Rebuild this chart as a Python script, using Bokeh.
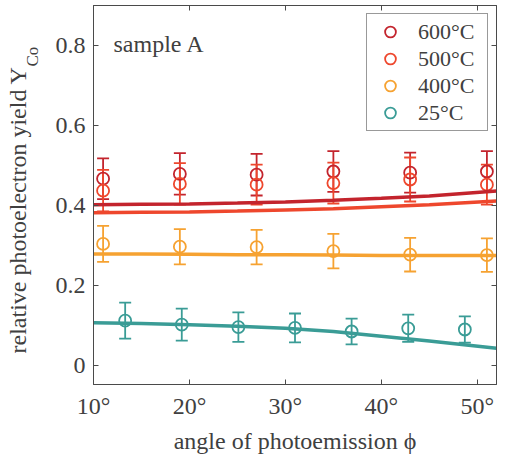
from bokeh.plotting import figure
from bokeh.models import (ColumnDataSource, Whisker, TeeHead, Label, LinearAxis,
                          FixedTicker, Legend, LegendItem, Range1d, Title)
from bokeh.embed import file_html
from bokeh.resources import INLINE

# ---------------- data ----------------
x_hi = [11, 19, 27, 35, 43, 51]
y600 = [0.467, 0.479, 0.477, 0.485, 0.482, 0.485]
e600 = [0.051, 0.052, 0.052, 0.051, 0.050, 0.051]
y500 = [0.437, 0.454, 0.452, 0.456, 0.465, 0.452]
e500 = [0.052, 0.052, 0.050, 0.051, 0.055, 0.050]
y400 = [0.304, 0.297, 0.296, 0.286, 0.277, 0.276]
e400 = [0.045, 0.044, 0.043, 0.043, 0.042, 0.042]
x_lo = [13.3, 19.2, 25.1, 31.0, 36.9, 42.8, 48.7]
y25 = [0.112, 0.102, 0.096, 0.094, 0.085, 0.093, 0.090]
e25 = [0.045, 0.040, 0.037, 0.036, 0.032, 0.034, 0.033]

x_fit = [10, 15, 20, 25, 30, 35, 40, 45, 52]
f600 = [0.402, 0.403, 0.404, 0.406, 0.409, 0.413, 0.418, 0.424, 0.436]
f500 = [0.382, 0.383, 0.384, 0.386, 0.389, 0.392, 0.397, 0.402, 0.411]
f400 = [0.279, 0.279, 0.278, 0.277, 0.277, 0.276, 0.275, 0.275, 0.275]
f25 = [0.107, 0.105, 0.102, 0.098, 0.093, 0.085, 0.073, 0.061, 0.043]

labels = ["600°C", "500°C", "400°C", "25°C"]
x_ticks = [10, 20, 30, 40, 50]
x_tick_labels = ["10°", "20°", "30°", "40°", "50°"]
y_ticks = [0, 0.2, 0.4, 0.6, 0.8]
y_tick_labels = ["0", "0.2", "0.4", "0.6", "0.8"]

colors = ["#C3242D", "#EE472D", "#F6A231", "#3A9C96"]
FONT = "Liberation Serif"
TXT = "#404040"
AX = "#4a4a4a"

p = figure(width=505, height=456, output_backend="svg", toolbar_location=None,
           x_range=Range1d(10, 52), y_range=Range1d(-0.0475, 0.9),
           min_border_left=93, min_border_right=9, min_border_top=5, min_border_bottom=72,
           background_fill_color="white", border_fill_color="white")
p.xgrid.visible = False
p.ygrid.visible = False
p.outline_line_color = AX
p.outline_line_width = 1

def style_axis(ax, ticks, tlabels, show):
    ax.ticker = FixedTicker(ticks=ticks)
    ax.major_label_overrides = {t: (l if show else "") for t, l in zip(ticks, tlabels)}
    ax.major_tick_in = 5
    ax.major_tick_out = 0
    ax.minor_tick_in = 0
    ax.minor_tick_out = 0
    ax.axis_line_color = AX
    ax.major_tick_line_color = AX
    ax.major_label_text_font = FONT
    ax.major_label_text_font_size = "24px" if show else "0px"
    ax.major_label_text_color = TXT
    ax.major_label_standoff = 8 if show else 0

style_axis(p.xaxis[0], x_ticks, x_tick_labels, True)
style_axis(p.yaxis[0], y_ticks, y_tick_labels, True)
p.xaxis[0].axis_label = "angle of photoemission ϕ"
p.xaxis[0].axis_label_text_font = FONT
p.xaxis[0].axis_label_text_font_size = "24px"
p.xaxis[0].axis_label_text_font_style = "normal"
p.xaxis[0].axis_label_text_color = TXT
p.xaxis[0].axis_label_standoff = 6

# small spacer so the subscript sits clear of the tick labels
p.yaxis[0].axis_label = " "
p.yaxis[0].axis_label_text_font_size = "1px"
p.yaxis[0].axis_label_standoff = 7

top = LinearAxis()
style_axis(top, x_ticks, x_tick_labels, False)
p.add_layout(top, "above")
right = LinearAxis()
style_axis(right, y_ticks, y_tick_labels, False)
p.add_layout(right, "right")

# y-axis title: "relative photoelectron yield Y" with subscript "Co"
sub = Title(text="Co", align="left", offset=318, standoff=0, vertical_align="bottom",
            text_font=FONT, text_font_size="17px", text_font_style="normal", text_color=TXT)
p.add_layout(sub, "left")
ytitle = Title(text="relative photoelectron yield Y", align="left", offset=31, standoff=-21,
               vertical_align="bottom", text_font=FONT, text_font_size="24px",
               text_font_style="normal", text_color=TXT)
p.add_layout(ytitle, "left")

series = [(x_hi, y600, e600, f600), (x_hi, y500, e500, f500),
          (x_hi, y400, e400, f400), (x_lo, y25, e25, f25)]

legend_items = []
for (xs, ys, es, fs), c, lab in zip(series, colors, labels):
    src = ColumnDataSource(dict(x=xs, y=ys,
                                upper=[a + b for a, b in zip(ys, es)],
                                lower=[a - b for a, b in zip(ys, es)]))
    w = Whisker(base="x", upper="upper", lower="lower", source=src, dimension="height",
                line_color=c, line_width=1.8,
                upper_head=TeeHead(size=12, line_color=c, line_width=1.8),
                lower_head=TeeHead(size=12, line_color=c, line_width=1.8))
    p.add_layout(w)
    r = p.scatter("x", "y", source=src, size=12, fill_color=None, line_color=c,
                  line_width=1.8, marker="circle")
    legend_items.append(LegendItem(label=lab, renderers=[r]))

for (xs, ys, es, fs), c in zip(series, colors):
    p.line(x_fit, fs, line_color=c, line_width=3.5)

leg = Legend(items=legend_items, location=(273, 253))
leg.label_text_font = FONT
leg.label_text_font_size = "22px"
leg.label_text_color = TXT
leg.padding = 4
leg.spacing = 0
leg.glyph_height = 27
leg.label_height = 27
leg.glyph_width = 38
leg.label_standoff = 9
leg.label_width = 65
leg.margin = 0
leg.border_line_color = "#333333"
leg.border_line_width = 1
leg.background_fill_color = "white"
leg.background_fill_alpha = 1
p.add_layout(leg)

p.add_layout(Label(x=20, y=341, x_units="screen", y_units="screen", text="sample A",
                   text_font=FONT, text_font_size="24px", text_color=TXT,
                   text_baseline="alphabetic", text_align="left"))

open("out.html", "w").write(file_html(p, INLINE))
